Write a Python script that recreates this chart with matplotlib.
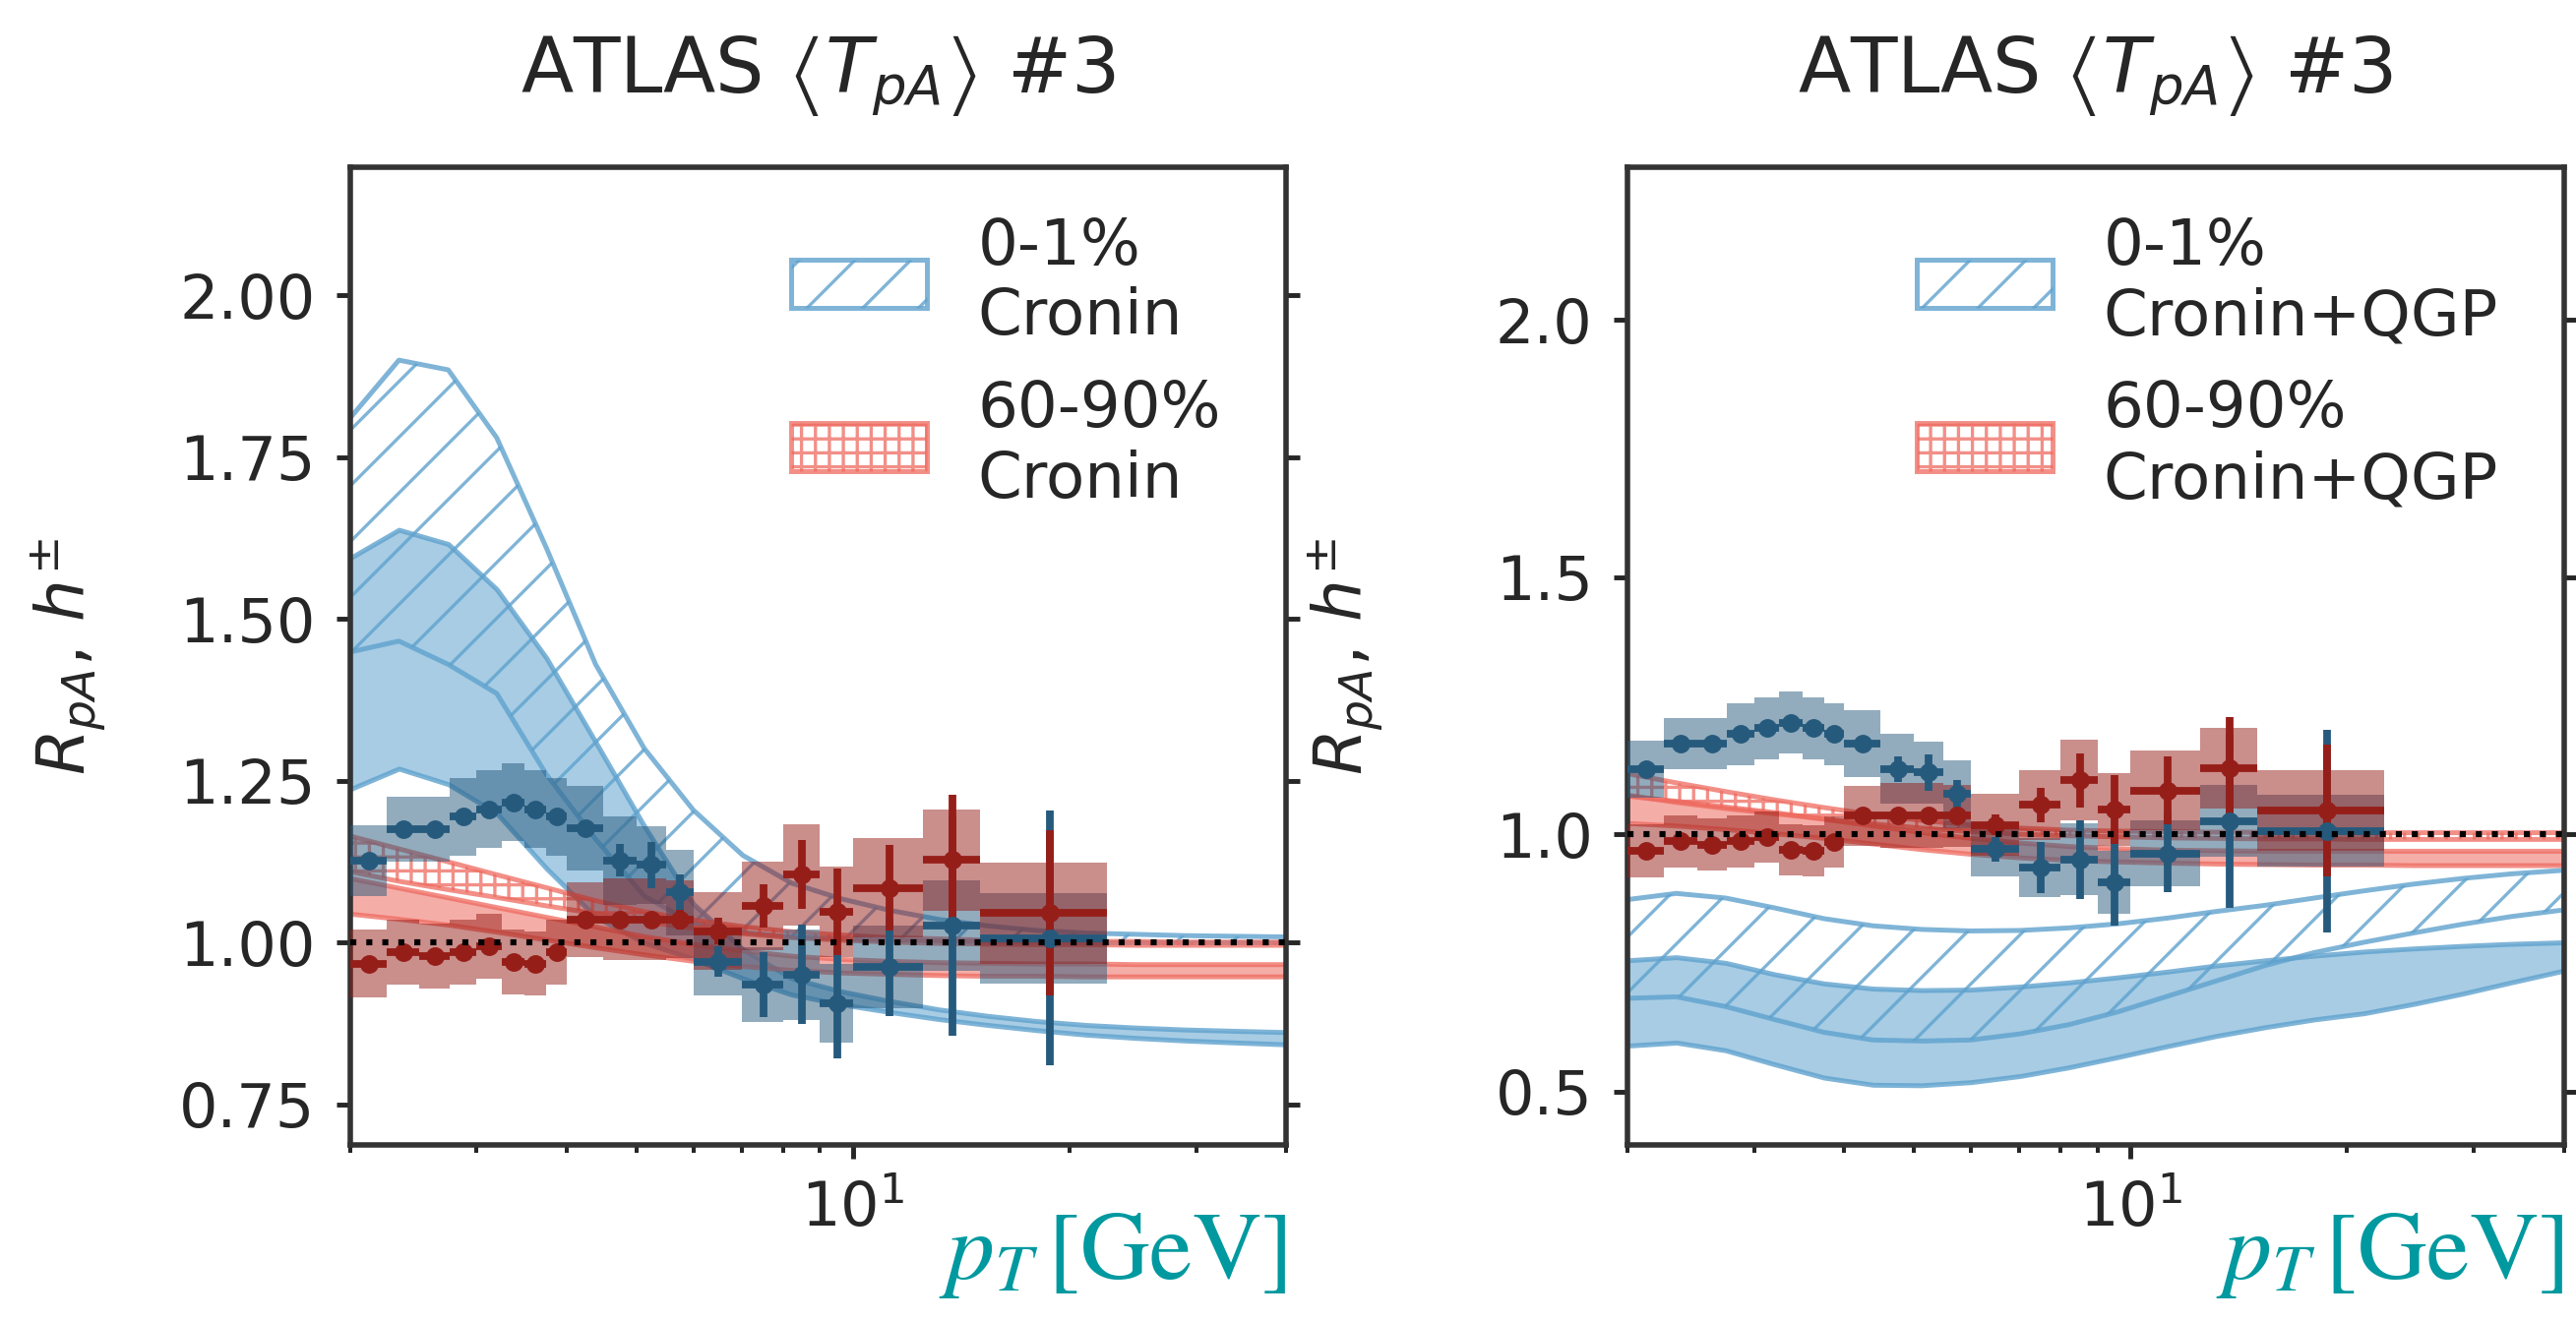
import numpy as np
import matplotlib.pyplot as plt
import matplotlib.patches as mpatches
import matplotlib.colors as mcolors
from matplotlib.ticker import NullFormatter

plt.rcParams['font.family'] = 'DejaVu Sans'
plt.rcParams['hatch.linewidth'] = 1.4

# ATLAS p+Pb charged hadron R_pA, pT bins
pt_edges = [2.0, 2.25, 2.5, 2.75, 3.0, 3.25, 3.5, 3.75, 4.0, 4.5, 5.0, 5.5, 6.0,
            7.0, 8.0, 9.0, 10.0, 12.5, 15.0, 22.5]

# 0-1% centrality
rpa_central = [1.127, 1.176, 1.176, 1.195, 1.206, 1.217, 1.206, 1.195, 1.177, 1.127,
               1.12, 1.078, 0.971, 0.935, 0.951, 0.907, 0.963, 1.026, 1.007]
stat_central = [0.008, 0.008, 0.008, 0.008, 0.009, 0.009, 0.01, 0.01, 0.012, 0.025,
                0.035, 0.027, 0.024, 0.05, 0.077, 0.085, 0.076, 0.17, 0.197]
sys_central = [0.055, 0.05, 0.05, 0.06, 0.06, 0.06, 0.06, 0.06, 0.065, 0.068,
               0.06, 0.066, 0.052, 0.058, 0.07, 0.061, 0.064, 0.07, 0.07]

# 60-90% centrality
rpa_periph = [0.968, 0.986, 0.98, 0.986, 0.995, 0.97, 0.968, 0.985, 1.036, 1.036,
              1.036, 1.036, 1.018, 1.057, 1.105, 1.048, 1.085, 1.128, 1.046]
stat_periph = [0.01, 0.01, 0.01, 0.01, 0.01, 0.01, 0.01, 0.01, 0.012, 0.012,
               0.012, 0.015, 0.02, 0.034, 0.053, 0.067, 0.066, 0.1, 0.128]
sys_periph = [0.052, 0.05, 0.05, 0.05, 0.05, 0.05, 0.05, 0.05, 0.058, 0.063,
              0.063, 0.06, 0.06, 0.068, 0.078, 0.07, 0.077, 0.078, 0.078]

# theory pT grid
pt_th = [2.0, 2.34, 2.74, 3.2, 3.75, 4.39, 5.13, 6.0, 7.03, 8.22, 9.62, 11.25,
         13.17, 15.4, 18.0, 21.1, 24.7, 28.9, 33.8, 40.0]

# Cronin only
cronin_c_hatch_hi = [1.81, 1.90, 1.885, 1.78, 1.61, 1.43, 1.30, 1.205, 1.135, 1.092,
                     1.068, 1.05, 1.036, 1.026, 1.019, 1.015, 1.013, 1.011, 1.01, 1.009]
cronin_c_hatch_lo = [1.449, 1.466, 1.43, 1.385, 1.26, 1.16, 1.072, 1.03, 1.016, 1.009,
                     1.006, 1.004, 1.003, 1.002, 1.001, 1.0, 1.0, 1.0, 1.0, 1.0]
cronin_c_fill_hi = [1.594, 1.638, 1.616, 1.546, 1.44, 1.31, 1.18, 1.06, 0.99, 0.945,
                    0.925, 0.91, 0.897, 0.887, 0.879, 0.873, 0.869, 0.866, 0.864, 0.862]
cronin_c_fill_lo = [1.237, 1.269, 1.245, 1.2, 1.115, 1.04, 1.0, 0.975, 0.945, 0.92,
                    0.905, 0.893, 0.882, 0.873, 0.865, 0.858, 0.853, 0.849, 0.846, 0.843]
cronin_p_hatch_hi = [1.165, 1.145, 1.125, 1.105, 1.085, 1.065, 1.048, 1.035, 1.025, 1.017,
                     1.012, 1.008, 1.006, 1.004, 1.003, 1.002, 1.002, 1.001, 1.001, 1.001]
cronin_p_hatch_lo = [1.11, 1.095, 1.082, 1.07, 1.057, 1.045, 1.033, 1.022, 1.014, 1.008,
                     1.004, 1.001, 0.999, 0.998, 0.997, 0.997, 0.996, 0.996, 0.996, 0.996]
cronin_p_fill_hi = [1.10, 1.085, 1.07, 1.055, 1.04, 1.025, 1.01, 0.998, 0.988, 0.98,
                    0.975, 0.972, 0.97, 0.969, 0.968, 0.968, 0.967, 0.967, 0.967, 0.967]
cronin_p_fill_lo = [1.045, 1.037, 1.028, 1.017, 1.005, 0.993, 0.982, 0.972, 0.964, 0.958,
                    0.954, 0.952, 0.95, 0.949, 0.949, 0.948, 0.948, 0.948, 0.948, 0.948]

# Cronin + QGP
qgp_c_hatch_hi = [0.873, 0.885, 0.876, 0.857, 0.836, 0.822, 0.815, 0.812, 0.813, 0.818,
                  0.826, 0.837, 0.85, 0.862, 0.876, 0.89, 0.903, 0.914, 0.923, 0.93]
qgp_c_hatch_lo = [0.681, 0.684, 0.665, 0.64, 0.615, 0.60, 0.598, 0.60, 0.612, 0.63,
                  0.655, 0.685, 0.715, 0.745, 0.77, 0.79, 0.808, 0.825, 0.84, 0.853]
qgp_c_fill_hi = [0.755, 0.761, 0.75, 0.728, 0.71, 0.70, 0.697, 0.698, 0.704, 0.712,
                 0.722, 0.733, 0.745, 0.755, 0.764, 0.772, 0.778, 0.783, 0.787, 0.79]
qgp_c_fill_lo = [0.589, 0.595, 0.58, 0.553, 0.527, 0.513, 0.512, 0.518, 0.53, 0.547,
                 0.567, 0.588, 0.608, 0.625, 0.64, 0.652, 0.67, 0.69, 0.712, 0.735]
qgp_p_hatch_hi = [1.118, 1.10, 1.083, 1.067, 1.052, 1.038, 1.027, 1.018, 1.012, 1.008,
                  1.006, 1.005, 1.004, 1.004, 1.003, 1.003, 1.003, 1.003, 1.003, 1.003]
qgp_p_hatch_lo = [1.076, 1.062, 1.05, 1.04, 1.03, 1.02, 1.012, 1.005, 1.0, 0.997,
                  0.995, 0.993, 0.992, 0.991, 0.991, 0.99, 0.99, 0.99, 0.99, 0.99]
qgp_p_fill_hi = [1.075, 1.065, 1.054, 1.043, 1.03, 1.017, 1.004, 0.993, 0.984, 0.977,
                 0.973, 0.97, 0.969, 0.968, 0.968, 0.968, 0.968, 0.968, 0.968, 0.968]
qgp_p_fill_lo = [1.022, 1.017, 1.01, 1.002, 0.993, 0.982, 0.971, 0.962, 0.955, 0.95,
                 0.947, 0.945, 0.943, 0.942, 0.941, 0.941, 0.94, 0.94, 0.94, 0.94]

labels_left = ['0-1%\nCronin', '60-90%\nCronin']
labels_right = ['0-1%\nCronin+QGP', '60-90%\nCronin+QGP']

# colours
blue_model = '#5fa2ce'
red_model = '#ee6a5f'
blue_data = '#265a7d'
red_data = '#961e19'
dark = '#262626'

lo = np.array(pt_edges[:-1])
hi = np.array(pt_edges[1:])
centers = 0.5 * (lo + hi)
half = 0.5 * (hi - lo)


def draw_panel(ax, bands, labels, ylim, yticks):
    c_hlo, c_hhi, c_flo, c_fhi, p_hlo, p_hhi, p_flo, p_fhi = bands
    blue_edge = mcolors.to_rgba(blue_model, 0.8)
    red_edge = mcolors.to_rgba(red_model, 0.75)

    # model bands
    ax.fill_between(pt_th, c_flo, c_fhi, facecolor=mcolors.to_rgba(blue_model, 0.55),
                    edgecolor=blue_edge, lw=2.1, zorder=1)
    ax.fill_between(pt_th, c_hlo, c_hhi, facecolor='none',
                    edgecolor=blue_edge, hatch='/', lw=2.1, zorder=1.5)
    ax.fill_between(pt_th, p_flo, p_fhi, facecolor=mcolors.to_rgba(red_model, 0.55),
                    edgecolor=red_edge, lw=2.1, zorder=1)
    ax.fill_between(pt_th, p_hlo, p_hhi, facecolor='none',
                    edgecolor=red_edge, hatch='++', lw=2.1, zorder=1.5)

    # systematic boxes
    for r, s, c in [(rpa_central, sys_central, blue_data), (rpa_periph, sys_periph, red_data)]:
        r = np.array(r)
        s = np.array(s)
        ax.bar(lo, 2 * s, width=hi - lo, bottom=r - s, align='edge',
               color=c, alpha=0.5, lw=0, zorder=3)

    # data points with statistical errors
    ax.errorbar(centers, rpa_central, xerr=half, yerr=stat_central, fmt='o',
                color=blue_data, ms=7, elinewidth=3.3, capsize=0, zorder=4)
    ax.errorbar(centers, rpa_periph, xerr=half, yerr=stat_periph, fmt='o',
                color=red_data, ms=7, elinewidth=3.3, capsize=0, zorder=4)

    ax.axhline(1.0, color='k', ls=':', lw=2.6, zorder=5)

    ax.set_xscale('log')
    ax.set_xlim(2, 40)
    ax.set_ylim(*ylim)
    ax.set_yticks(yticks)
    ax.xaxis.set_minor_formatter(NullFormatter())

    ax.tick_params(axis='both', which='both', colors=dark, labelsize=26.3, pad=9,
                   direction='out')
    ax.tick_params(axis='y', which='major', length=5.9, width=2.07, left=True, right=True)
    ax.tick_params(axis='x', which='major', length=5.9, width=2.07, top=False)
    ax.tick_params(axis='x', which='minor', length=3.2, width=1.7, top=False)
    for sp in ax.spines.values():
        sp.set_linewidth(2.35)
        sp.set_color('#333333')

    ax.set_title(r'ATLAS $\left\langle T_{pA} \right\rangle$ #3', fontsize=33,
                 color=dark, pad=32)
    ax.set_ylabel(r'$R_{pA},\, h^{\pm}$', fontsize=28.6, color=dark)
    ax.yaxis.set_label_coords(-0.258, 0.5)
    ax.set_xlabel(r'$p_T\,[\mathrm{GeV}]$', fontsize=41.4, color='#00999f',
                  math_fontfamily='stix', loc='right')
    ax.xaxis.set_label_coords(1.0, -0.063)

    handles = [mpatches.Patch(facecolor='none', edgecolor=blue_edge, hatch='/', lw=2.1),
               mpatches.Patch(facecolor='none', edgecolor=red_edge, hatch='++', lw=2.1)]
    ax.legend(handles, labels, loc='upper right', bbox_to_anchor=(0.957, 0.976),
              borderaxespad=0, frameon=False, fontsize=27.2, handlelength=2.15,
              handleheight=0.8, labelspacing=0.5, handletextpad=0.8, labelcolor=dark)


fig = plt.figure(figsize=(2618 / 170, 1343 / 170), dpi=170)
ax1 = fig.add_axes([0.1358, 0.1333, 0.3636, 0.7401])
ax2 = fig.add_axes([0.6317, 0.1333, 0.3636, 0.7401])

draw_panel(ax1, [cronin_c_hatch_lo, cronin_c_hatch_hi, cronin_c_fill_lo, cronin_c_fill_hi,
                 cronin_p_hatch_lo, cronin_p_hatch_hi, cronin_p_fill_lo, cronin_p_fill_hi],
           labels_left, (0.6877, 2.198), [0.75, 1.0, 1.25, 1.5, 1.75, 2.0])
draw_panel(ax2, [qgp_c_hatch_lo, qgp_c_hatch_hi, qgp_c_fill_lo, qgp_c_fill_hi,
                 qgp_p_hatch_lo, qgp_p_hatch_hi, qgp_p_fill_lo, qgp_p_fill_hi],
           labels_right, (0.396, 2.297), [0.5, 1.0, 1.5, 2.0])

fig.savefig('out.png', dpi=170)
